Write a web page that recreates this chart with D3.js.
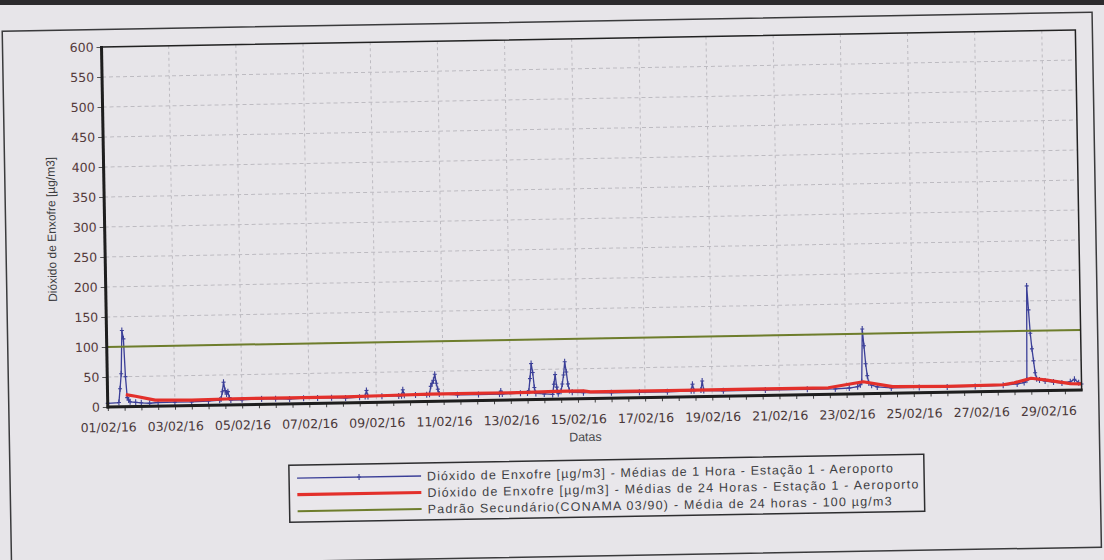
<!DOCTYPE html>
<html><head><meta charset="utf-8">
<script src="https://cdn.jsdelivr.net/npm/d3@7"></script>
<style>html,body{margin:0;padding:0;background:#e7e5e9;} svg{display:block}</style>
</head><body><svg id="c" width="1104" height="560"></svg>
<script>
// ---------- data ----------
const startDate = Date.UTC(2016, 1, 1);
const endDate = Date.UTC(2016, 2, 1);
const yTicks = [0, 50, 100, 150, 200, 250, 300, 350, 400, 450, 500, 550, 600];
const xTickLabels = ["01/02/16","03/02/16","05/02/16","07/02/16","09/02/16","11/02/16","13/02/16",
  "15/02/16","17/02/16","19/02/16","21/02/16","23/02/16","25/02/16","27/02/16","29/02/16"];
// [hours since 01/02/16 00:00, µg/m3]
const hourlySO2 = [
  [0,6],[8,7],[9,30],[10,55],[11,127],[12,113],[13,50],[14,15],[15,11],[16,8],[20,7],
  [24,6],[30,5],[36,6],[48,6],[60,6],[72,7],[80,8],
  [81,10],[82,22],[83,38],[84,24],[85,18],[86,22],[87,12],[88,8],
  [96,8],[110,9],[120,9],[130,8],[140,9],[150,9],[160,9],[170,8],[180,9],
  [184,10],[185,20],[186,10],[196,10],[208,10],[210,10],[211,20],[212,11],[220,11],[228,11],
  [230,12],[231,25],[232,30],[233,35],[234,45],[235,30],[236,20],[237,12],
  [250,10],[265,10],[280,10],[281,15],[282,10],[295,11],[300,11],
  [301,14],[302,35],[303,60],[304,45],[305,20],[306,10],[312,9],[318,8],
  [319,25],[320,41],[321,20],[322,9],
  [324,13],[325,25],[326,40],[327,62],[328,45],[329,25],[330,14],[332,11],
  [340,10],[360,9],[380,9],[400,9],[417,10],[418,21],[419,10],[424,11],[425,26],[426,10],
  [440,9],[470,9],[500,9],[520,9],[530,10],
  [536,12],[538,15],[539,20],[540,108],[541,80],[542,50],[543,30],[544,18],[546,14],[550,11],
  [560,9],[580,9],[600,9],[620,9],[640,10],[650,12],
  [655,14],[657,18],[658,175],[659,135],[660,96],[661,70],[662,50],[663,30],[664,20],[666,18],
  [670,16],[676,14],[682,12],[688,14],[691,18],[694,12],[696,10]
];
const dailySO2 = [
  [13,20],[20,17],[34,10],[60,9],[90,10],[130,10],[170,10],[200,11],[230,12],[260,12],
  [300,12],[320,13],[340,13],[345,11],[400,11],[470,11],[515,11],[540,20],[561,11],
  [600,10],[640,11],[648,14],[660,21],[670,18],[688,11],[696,10]
];
const standardLimit = 100;
const legendLabels = [
  "Dióxido de Enxofre [µg/m3] - Médias de 1 Hora - Estação 1 - Aeroporto",
  "Dióxido de Enxofre [µg/m3] - Médias de 24 Horas - Estação 1 - Aeroporto",
  "Padrão Secundário(CONAMA 03/90) - Média de 24 horas -  100 µg/m3"
];
const yTitle = "Dióxido de Enxofre [µg/m3]";
const xTitle = "Datas";

// ---------- drawing ----------
const colBlue = "#3b3f98", colRed = "#e3302b", colGreen = "#6e7d2c";
const svg = d3.select("#c");
svg.append("rect").attr("width",1104).attr("height",560).attr("fill","#e7e5e9");
svg.append("rect").attr("width",1104).attr("height",5).attr("fill","#2c2b2d");

const g = svg.append("g").attr("transform","rotate(-1,592,300)");
g.append("rect").attr("x",7).attr("y",21).attr("width",1090).attr("height",535)
  .attr("fill","none").attr("stroke","#3a3a3c").attr("stroke-width",1.5);

const x = d3.scaleUtc().domain([startDate, endDate]).range([106, 1080]);
const y = d3.scaleLinear().domain([0, 600]).range([398.5, 38.5]);
const parseD = d3.utcParse("%d/%m/%y");
const tickDates = xTickLabels.map(parseD);
const tAt = h => d3.utcHour.offset(new Date(startDate), h);

// grid
g.append("g").selectAll("line").data(tickDates.slice(1)).join("line")
  .attr("x1",d=>x(d)).attr("x2",d=>x(d)).attr("y1",y(600)).attr("y2",y(0))
  .attr("stroke","#bdbbc1").attr("stroke-width",1).attr("stroke-dasharray","3,3");
g.append("g").selectAll("line").data(yTicks.filter(v=>v>0&&v<600)).join("line")
  .attr("x1",x(startDate)).attr("x2",x(endDate)).attr("y1",d=>y(d)).attr("y2",d=>y(d))
  .attr("stroke","#bdbbc1").attr("stroke-width",1).attr("stroke-dasharray","4,3");

// axes
const yAx = g.append("g").attr("transform",`translate(${x(startDate)},0)`)
  .call(d3.axisLeft(y).tickValues(yTicks).tickSize(5).tickPadding(3));
yAx.select(".domain").remove();
yAx.selectAll("line").attr("stroke","#555");
yAx.selectAll("text").attr("font-family","DejaVu Sans").attr("font-size",12.5).attr("fill","#553a3b");

const minor = d3.utcHour.every(12).range(new Date(startDate), new Date(endDate));
const xMinor = g.append("g").attr("transform",`translate(0,${y(0)})`)
  .call(d3.axisBottom(x).tickValues(minor).tickSize(4).tickFormat(""));
xMinor.select(".domain").remove();
xMinor.selectAll("line").attr("stroke","#444");
const xAx = g.append("g").attr("transform",`translate(0,${y(0)})`)
  .call(d3.axisBottom(x).tickValues(tickDates).tickSize(0).tickPadding(16).tickFormat(d3.utcFormat("%d/%m/%y")));
xAx.select(".domain").remove();
xAx.selectAll("text").attr("font-family","DejaVu Sans").attr("font-size",12.5).attr("fill","#4a383a");

// titles
g.append("text").attr("transform","translate(57,220) rotate(-90)").attr("text-anchor","middle")
  .attr("font-family","Liberation Sans").attr("font-size",12).attr("fill","#3d3d40").text(yTitle);
g.append("text").attr("x",583).attr("y",441).attr("text-anchor","middle")
  .attr("font-family","Liberation Sans").attr("font-size",12.5).attr("fill","#4a4a4e").text(xTitle);

// series
const line = d3.line().x(d=>x(tAt(d[0]))).y(d=>y(d[1]));
g.append("path").datum(hourlySO2).attr("d",line).attr("fill","none")
  .attr("stroke",colBlue).attr("stroke-width",1.3);
g.append("g").selectAll("path").data(hourlySO2).join("path")
  .attr("d",d=>{const px=x(tAt(d[0])),py=y(d[1]);return `M${px},${py-3}V${py+3}M${px-2},${py}H${px+2}`;})
  .attr("stroke",colBlue).attr("stroke-width",1.1);
g.append("path").datum(dailySO2).attr("d",line).attr("fill","none")
  .attr("stroke",colRed).attr("stroke-width",3.2).attr("stroke-linejoin","round");
g.append("line").attr("x1",x(startDate)).attr("x2",x(endDate))
  .attr("y1",y(standardLimit)).attr("y2",y(standardLimit))
  .attr("stroke",colGreen).attr("stroke-width",2);

// plot frame
g.append("rect").attr("x",x(startDate)).attr("y",y(600)).attr("width",x(endDate)-x(startDate))
  .attr("height",y(0)-y(600)).attr("fill","none").attr("stroke","#222").attr("stroke-width",1.5);
g.append("line").attr("x1",x(startDate)).attr("x2",x(startDate)).attr("y1",y(600)-1).attr("y2",y(0)+1.5)
  .attr("stroke","#1e1e1e").attr("stroke-width",3);
g.append("line").attr("x1",x(startDate)-1).attr("x2",x(endDate)+1).attr("y1",y(0)).attr("y2",y(0))
  .attr("stroke","#1e1e1e").attr("stroke-width",3);

// legend
const lg = g.append("g");
lg.append("rect").attr("x",286).attr("y",460).attr("width",635).attr("height",57)
  .attr("fill","#e9e7eb").attr("stroke","#2e2e30").attr("stroke-width",1.5);
const legStyles = [{c:colBlue,w:1.3,m:true,len:466},{c:colRed,w:3.2,m:false,len:491},{c:colGreen,w:2,m:false,len:464}];
legendLabels.forEach((t,i)=>{
  const cy = 473 + i*16.5;
  lg.append("line").attr("x1",294).attr("x2",418).attr("y1",cy).attr("y2",cy)
    .attr("stroke",legStyles[i].c).attr("stroke-width",legStyles[i].w);
  if (legStyles[i].m) lg.append("path").attr("d",`M356,${cy-3}V${cy+3}M354,${cy}H358`)
    .attr("stroke",colBlue).attr("stroke-width",1.1);
  lg.append("text").attr("x",424).attr("y",cy+4.5).attr("font-family","Liberation Sans")
    .attr("font-size",12.5).attr("fill","#3f3f44")
    .attr("textLength",legStyles[i].len).attr("lengthAdjust","spacing").text(t);
});
</script></body></html>
